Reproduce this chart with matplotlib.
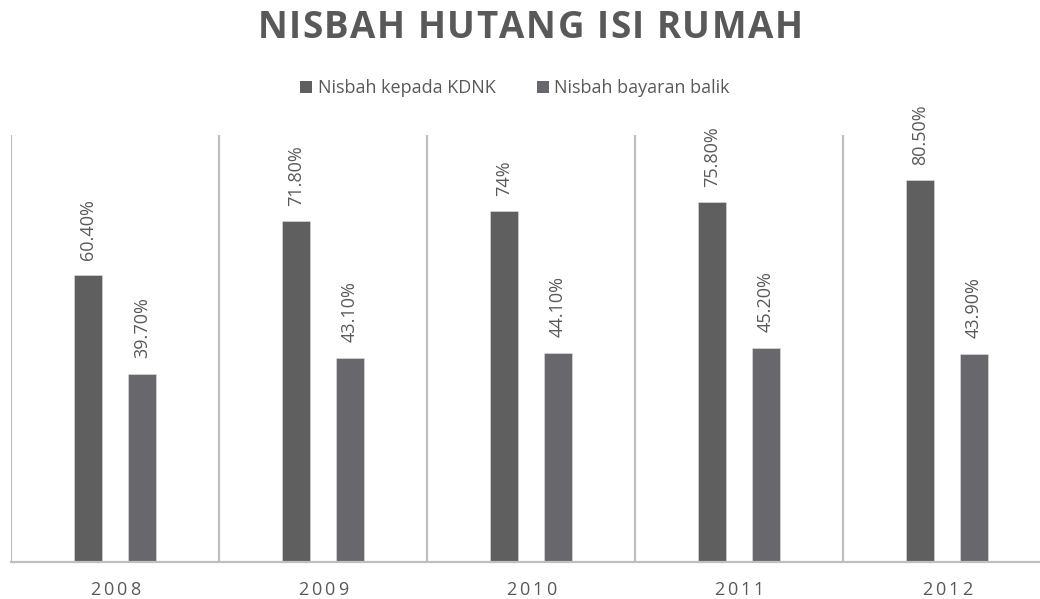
import matplotlib
matplotlib.use("Agg")
import matplotlib.pyplot as plt
from matplotlib.patches import Patch
import numpy as np

years = ["2008", "2009", "2010", "2011", "2012"]
kdnk = [60.4, 71.8, 74.0, 75.8, 80.5]
bayaran = [39.7, 43.1, 44.1, 45.2, 43.9]
kdnk_labels = ["60.40%", "71.80%", "74%", "75.80%", "80.50%"]
bayaran_labels = ["39.70%", "43.10%", "44.10%", "45.20%", "43.90%"]
series_names = ["Nisbah kepada KDNK", "Nisbah bayaran balik"]
title = "NISBAH HUTANG ISI RUMAH"

C1 = "#5f5f5f"
C2 = "#68686c"
TXT = "#595959"
GRID = "#bfbfbf"

plt.rcParams['font.family'] = ['Open Sans', 'DejaVu Sans']

W, H = 1040, 599
fig = plt.figure(figsize=(W / 100, H / 100), dpi=100)
# plot area in pixels: left 11, right 1051, top 135, bottom 562
ax = fig.add_axes([11 / W, (H - 562) / H, 1040 / W, (562 - 135) / H])
ax.set_xlim(-0.5, len(years) - 0.5)
ax.set_ylim(0, 90)

x = np.arange(len(years))
off = 0.13
bw = 0.135
b1 = ax.bar(x - off, kdnk, bw, color=C1, edgecolor="#e0e0e0", linewidth=0.4)
b2 = ax.bar(x + off, bayaran, bw, color=C2, edgecolor="#e0e0e0", linewidth=0.4)

for xi, v, s in zip(x - off, kdnk, kdnk_labels):
    ax.annotate(s, (xi, v), xytext=(0, 11.0), textcoords="offset points",
                rotation=90, ha="center", va="bottom", fontsize=13, color=TXT)
for xi, v, s in zip(x + off, bayaran, bayaran_labels):
    ax.annotate(s, (xi, v), xytext=(0, 11.0), textcoords="offset points",
                rotation=90, ha="center", va="bottom", fontsize=13, color=TXT)

# category separators
for i in range(len(years)):
    ax.axvline(i - 0.5, color=GRID, lw=1.6, zorder=0)

for sp in ["top", "right", "left"]:
    ax.spines[sp].set_visible(False)
ax.spines["bottom"].set_color(GRID)
ax.spines["bottom"].set_linewidth(1.6)
ax.set_yticks([])
ax.set_xticks(x)
ax.set_xticklabels([])
ax.tick_params(axis="x", length=0)

fig.canvas.draw()
renderer = fig.canvas.get_renderer()


def spaced_text(s, xc_px, yc_px, target_w=None, spacing=0.0, **kw):
    """Draw letter-spaced text centred at pixel (xc, yc) from top-left."""
    widths = []
    for ch in s:
        t = fig.text(0, 0, ch if ch != " " else "n", **kw)
        bb = t.get_window_extent(renderer)
        w = bb.width
        if ch == " ":
            t2 = fig.text(0, 0, "n n", **kw)
            t3 = fig.text(0, 0, "nn", **kw)
            w = t2.get_window_extent(renderer).width - t3.get_window_extent(renderer).width
            t2.remove(); t3.remove()
        widths.append(w)
        t.remove()
    total = sum(widths)
    if target_w is not None:
        spacing = (target_w - total) / (len(s) - 1)
    total_w = total + spacing * (len(s) - 1)
    xpos = xc_px - total_w / 2
    for ch, w in zip(s, widths):
        if ch != " ":
            fig.text(xpos / W, 1 - yc_px / H, ch, ha="left", va="center_baseline", **kw)
        xpos += w + spacing


spaced_text(title, 530, 24, target_w=545, fontsize=26.5, fontweight="bold", color=TXT)

for i, y in enumerate(years):
    xc = 11 + 208 * i + 104
    spaced_text(y, xc, 588, target_w=50, fontsize=13, color=TXT)

handles = [Patch(facecolor=C1), Patch(facecolor=C2)]
fig.legend(handles, series_names, loc="center", bbox_to_anchor=(515 / W, 1 - 88 / H),
           ncol=2, frameon=False, fontsize=13, handlelength=0.65, handleheight=0.65,
           handletextpad=0.3, columnspacing=2.3, labelcolor=TXT)

fig.savefig("out.png", dpi=100)
